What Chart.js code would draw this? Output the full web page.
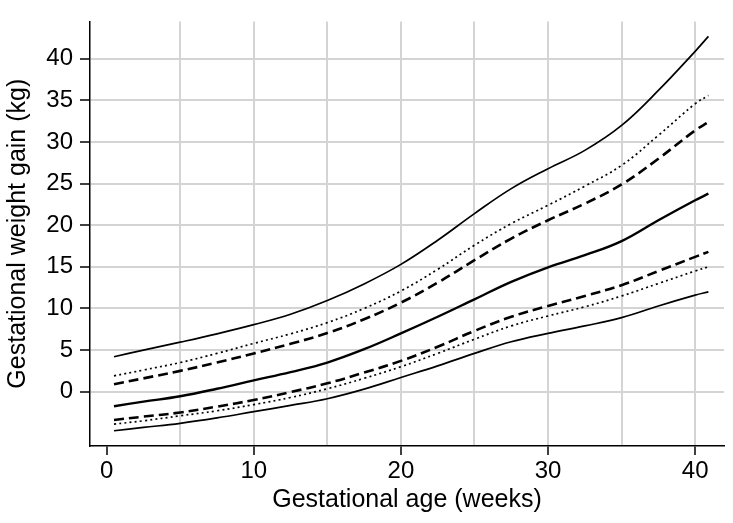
<!DOCTYPE html>
<html>
<head>
<meta charset="utf-8">
<script src="https://cdn.jsdelivr.net/npm/chart.js@4"></script>
<style>
  html, body { margin: 0; padding: 0; background: #fff; }
  #wrap { width: 733px; height: 523px; }
</style>
</head>
<body>
<div id="wrap"><canvas id="gwgChart"></canvas></div>
<script>
// gestational age (weeks) where the curves were read
const weeks = [0.5, 2.5, 5, 7.5, 10, 12.5, 15, 17.5, 20, 22.5, 25, 27.5, 30, 32.5, 35, 37.5, 40, 40.9];

// centile curves, top to bottom (kg)
const upperSolid  = [4.2, 5.0, 5.95, 6.95, 8.05, 9.3, 10.95, 12.95, 15.3, 18.2, 21.4, 24.4, 26.8, 29.0, 32.0, 36.2, 40.9, 42.7];
const upperDotted = [1.9, 2.6, 3.5, 4.6, 5.8, 6.95, 8.3, 10.0, 12.1, 14.7, 17.6, 20.2, 22.4, 24.7, 27.2, 30.8, 34.6, 35.6];
const upperDashed = [0.9, 1.6, 2.5, 3.5, 4.6, 5.75, 7.05, 8.7, 10.7, 13.1, 15.8, 18.4, 20.6, 22.6, 24.9, 28.0, 31.4, 32.4];
const median      = [-1.75, -1.2, -0.55, 0.35, 1.36, 2.35, 3.5, 5.1, 7.0, 9.0, 11.1, 13.2, 14.95, 16.4, 18.1, 20.6, 23.0, 23.8];
const lowerDashed = [-3.4, -3.0, -2.5, -1.8, -1.0, -0.05, 1.0, 2.3, 3.7, 5.4, 7.3, 9.0, 10.3, 11.5, 12.8, 14.5, 16.2, 16.8];
const lowerDotted = [-3.9, -3.5, -2.9, -2.3, -1.55, -0.7, 0.35, 1.6, 3.0, 4.6, 6.3, 7.9, 9.1, 10.2, 11.5, 13.0, 14.5, 15.0];
const lowerSolid  = [-4.7, -4.3, -3.8, -3.15, -2.4, -1.65, -0.85, 0.3, 1.7, 3.1, 4.6, 6.0, 7.0, 7.9, 8.9, 10.3, 11.6, 12.0];

const xTicks = [0, 5, 10, 15, 20, 25, 30, 35, 40];
const yTicks = [0, 5, 10, 15, 20, 25, 30, 35, 40];

const font = "'Liberation Sans', Arial, Helvetica, sans-serif";
const gridGrey = '#d4d4d4';

function pts(ys) {
    return weeks.map((w, i) => ({ x: w, y: ys[i] }));
}

function curve(ys, width, dash) {
    return {
        data: pts(ys),
        borderColor: '#000',
        borderWidth: width,
        borderDash: dash,
        pointRadius: 0,
        fill: false,
        tension: 0.4
    };
}

const ctx = document.getElementById('gwgChart').getContext('2d');
new Chart(ctx, {
    type: 'line',
    data: {
        datasets: [
            curve(upperSolid, 1.7, []),
            curve(upperDotted, 1.7, [2, 3.2]),
            curve(upperDashed, 2.6, [10, 5]),
            curve(median, 2.4, []),
            curve(lowerDashed, 2.6, [10, 5]),
            curve(lowerDotted, 1.7, [2, 3.2]),
            curve(lowerSolid, 1.7, [])
        ]
    },
    options: {
        responsive: true,
        maintainAspectRatio: false,
        animation: false,
        layout: { padding: { top: 8, right: 9, left: 0, bottom: 0 } },
        plugins: {
            legend: { display: false },
            tooltip: { enabled: false }
        },
        scales: {
            x: {
                type: 'linear',
                min: -1.13,
                max: 41.96,
                afterBuildTicks: s => { s.ticks = xTicks.map(v => ({ value: v })); },
                afterFit: s => { s.height = 77; },
                ticks: {
                    autoSkip: false,
                    maxRotation: 0,
                    padding: 2,
                    color: '#000',
                    font: { family: font, size: 24 },
                    callback: v => (v % 10 === 0 ? String(v) : '')
                },
                grid: {
                    color: c => (c.tick && c.tick.value === 0 ? 'rgba(0,0,0,0)' : gridGrey),
                    lineWidth: 2,
                    tickColor: c => (c.tick && c.tick.value % 10 === 0 ? '#000' : 'rgba(0,0,0,0)'),
                    tickLength: 9,
                    tickWidth: 1.5
                },
                border: { color: '#000', width: 1.5 },
                title: {
                    display: true,
                    text: 'Gestational age (weeks)',
                    color: '#000',
                    font: { family: font, size: 25 },
                    padding: { top: 0, bottom: 8 }
                }
            },
            y: {
                min: -6.53,
                max: 44.5,
                afterBuildTicks: s => { s.ticks = yTicks.map(v => ({ value: v })); },
                afterFit: s => { s.width = 90; },
                ticks: {
                    autoSkip: false,
                    padding: 7,
                    color: '#000',
                    font: { family: font, size: 24 }
                },
                grid: {
                    color: gridGrey,
                    lineWidth: 2,
                    tickColor: '#000',
                    tickLength: 10,
                    tickWidth: 1.5
                },
                border: { color: '#000', width: 1.5 },
                title: {
                    display: true,
                    text: 'Gestational weight gain (kg)',
                    color: '#000',
                    font: { family: font, size: 25 },
                    padding: { top: 3, bottom: 0 }
                }
            }
        }
    }
});
</script>
</body>
</html>
